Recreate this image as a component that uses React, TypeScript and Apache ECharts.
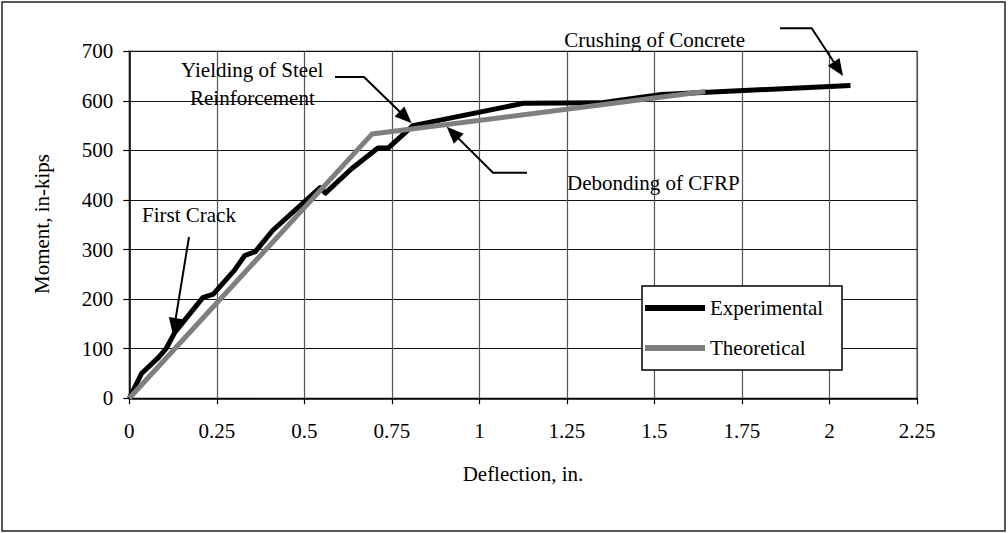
import React, { useEffect, useRef } from "react";
import * as echarts from "echarts";

const expX = [0, 0.035, 0.083, 0.105, 0.13, 0.21, 0.24, 0.3, 0.33, 0.36, 0.41, 0.545, 0.56, 0.635, 0.71, 0.74, 0.81, 1.125, 1.345, 1.52, 2.06];
const expY = [0, 50, 82, 100, 133, 203, 210, 258, 288, 296, 339, 425, 414, 463, 505, 505, 550, 595, 596, 613, 631];
const theoX = [0, 0.693, 1.645];
const theoY = [0, 533, 619];
const seriesNames = ["Experimental", "Theoretical"];
const xTickLabels = ["0", "0.25", "0.5", "0.75", "1", "1.25", "1.5", "1.75", "2", "2.25"];
const yTickLabels = ["0", "100", "200", "300", "400", "500", "600", "700"];
const annotations = ["Yielding of Steel", "Reinforcement", "Debonding of CFRP", "Crushing of Concrete", "First Crack"];
const xTitle = "Deflection, in.";
const yTitle = "Moment, in-kips";

const FONT = "'Liberation Serif', 'Times New Roman', serif";
const FS = 21;

function arrowHead(fx: number, fy: number, tx: number, ty: number, len = 17, half = 7) {
  const dx = tx - fx, dy = ty - fy;
  const d = Math.sqrt(dx * dx + dy * dy);
  const ux = dx / d, uy = dy / d;
  const bx = tx - ux * len, by = ty - uy * len;
  return {
    type: "polygon",
    z: 20,
    shape: { points: [[tx, ty], [bx - uy * half, by + ux * half], [bx + uy * half, by - ux * half]] },
    style: { fill: "#000" },
  };
}

function arrow(pts: number[][]) {
  const n = pts.length;
  const [fx, fy] = pts[n - 2];
  const [tx, ty] = pts[n - 1];
  const dx = tx - fx, dy = ty - fy;
  const d = Math.sqrt(dx * dx + dy * dy);
  const shortened = pts.slice(0, n - 1).concat([[tx - (dx / d) * 12, ty - (dy / d) * 12]]);
  return [
    { type: "polyline", z: 20, shape: { points: shortened }, style: { stroke: "#000", lineWidth: 2, fill: null } },
    arrowHead(fx, fy, tx, ty),
  ];
}

function txt(text: string, x: number, y: number, align = "left", rotation = 0) {
  return {
    type: "text",
    z: 20,
    x,
    y,
    rotation,
    style: { text, fill: "#000", font: `${FS}px ${FONT}`, align, verticalAlign: "middle" },
  };
}

export default function App() {
  const ref = useRef<HTMLDivElement>(null);
  useEffect(() => {
    if (!ref.current) return;
    const chart = echarts.init(ref.current, null, { renderer: "svg" });
    const expData = expX.map((x, i) => [x, expY[i]]);
    const theoData = theoX.map((x, i) => [x, theoY[i]]);
    chart.setOption({
      animation: false,
      backgroundColor: "#fff",
      grid: {
        left: 129.3,
        right: 91,
        top: 51.3,
        bottom: 134.7,
        show: true,
        borderColor: "#808080",
        borderWidth: 1.5,
        backgroundColor: "#fff",
      },
      xAxis: {
        type: "value",
        min: 0,
        max: 2.25,
        interval: 0.25,
        axisLine: { show: true, lineStyle: { color: "#000", width: 1.5 } },
        axisTick: { show: true, length: 6, inside: false, lineStyle: { color: "#000", width: 1.2 } },
        axisLabel: {
          margin: 22,
          fontSize: FS,
          fontFamily: FONT,
          color: "#000",
          formatter: (v: number) => xTickLabels[Math.round(v / 0.25)] ?? "",
        },
        splitLine: { show: true, lineStyle: { color: "#555", width: 1.2 } },
      },
      yAxis: {
        type: "value",
        min: 0,
        max: 700,
        interval: 100,
        axisLine: { show: true, lineStyle: { color: "#000", width: 1.5 } },
        axisTick: { show: true, length: 6, inside: false, lineStyle: { color: "#000", width: 1.2 } },
        axisLabel: {
          margin: 16,
          fontSize: FS,
          fontFamily: FONT,
          color: "#000",
          formatter: (v: number) => yTickLabels[Math.round(v / 100)] ?? "",
        },
        splitLine: { show: true, lineStyle: { color: "#111", width: 1.2 } },
      },
      legend: {
        orient: "vertical",
        left: 645,
        top: 296,
        z: 12,
        itemWidth: 60,
        itemHeight: 6,
        itemGap: 16,
        padding: 0,
        icon: "rect",
        textStyle: { fontSize: FS, fontFamily: FONT, color: "#000", lineHeight: 24 },
        data: seriesNames,
      },
      series: [
        {
          name: seriesNames[0],
          type: "line",
          data: expData,
          showSymbol: false,
          symbol: "none",
          z: 3,
          lineStyle: { color: "#000", width: 5, join: "round" },
          itemStyle: { color: "#000" },
        },
        {
          name: seriesNames[1],
          type: "line",
          data: theoData,
          showSymbol: false,
          symbol: "none",
          z: 4,
          lineStyle: { color: "#7f7f7f", width: 5, join: "round" },
          itemStyle: { color: "#7f7f7f" },
        },
      ],
      graphic: [
        { type: "rect", z: 11, shape: { x: 642, y: 286, width: 200, height: 84 }, style: { fill: "#fff", stroke: "#000", lineWidth: 1.5 } },
        { type: "rect", z: 30, shape: { x: 2, y: 2, width: 1003, height: 529 }, style: { fill: null, stroke: "#222", lineWidth: 1.5 } },
        txt(annotations[0], 181, 70),
        txt(annotations[1], 190, 98),
        txt(annotations[2], 567, 183),
        txt(annotations[3], 745, 40, "right"),
        txt(annotations[4], 142, 215),
        txt(xTitle, 523, 474, "center"),
        txt(yTitle, 42, 224, "center", Math.PI / 2),
        ...arrow([[335, 77], [364, 77], [411.7, 123.3]]),
        ...arrow([[527, 172.7], [493, 172.7], [446.7, 126.7]]),
        ...arrow([[780, 28.3], [811.7, 28.3], [843, 76]]),
        ...arrow([[189, 237], [173, 335]]),
      ],
    });
    return () => chart.dispose();
  }, []);
  return <div ref={ref} style={{ position: "fixed", left: 0, top: 0, width: 1008, height: 533 }} />;
}
